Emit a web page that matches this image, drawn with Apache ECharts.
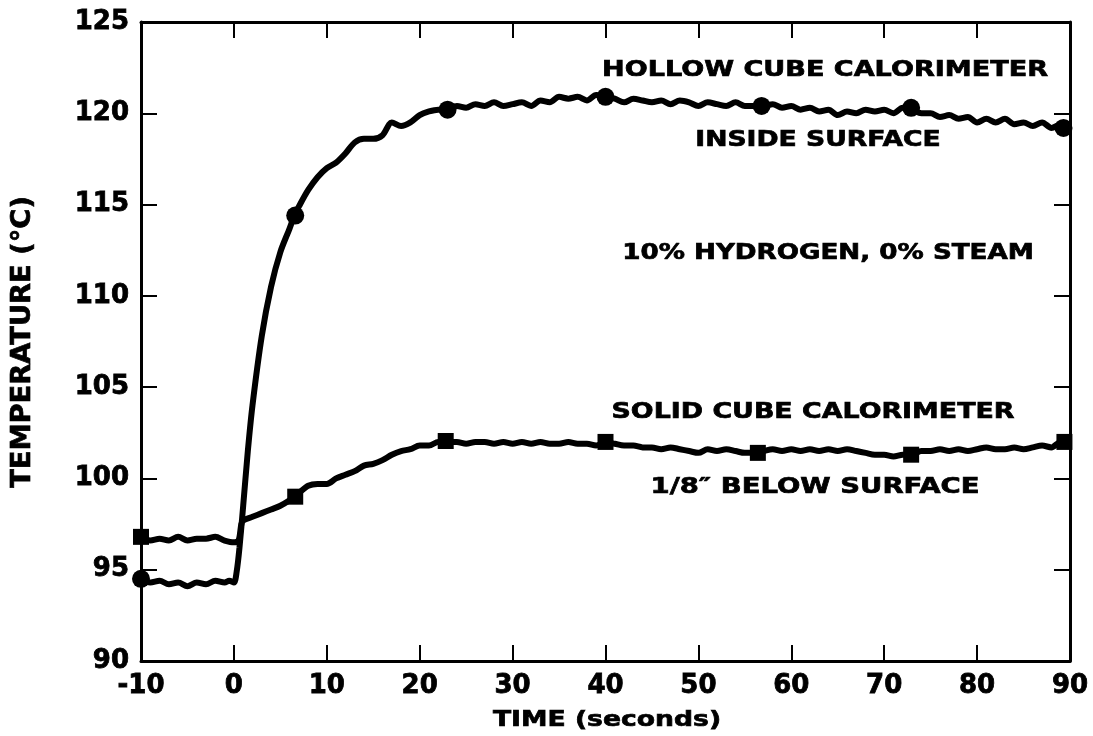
<!DOCTYPE html>
<html lang="en">
<head>
  <meta charset="UTF-8">
  <title>Calorimeter temperature</title>
  <style>
    html, body { margin: 0; padding: 0; background: #fff; }
    #main { width: 1093px; height: 736px; }
  </style>
</head>
<body>
<div id="main"></div>
<script src="https://cdn.jsdelivr.net/npm/echarts@6/dist/echarts.min.js"></script>
<script>
  // hollow cube, inside surface (time s, temperature C)
  const hollowTime = [-10, -9, -8, -7, -6, -5, -4, -3, -2, -1, -0.5, 0, 0.3, 0.6, 1, 1.5, 2, 3, 4, 5, 6, 6.5, 7, 8, 9, 10,
    11, 12, 13, 14, 15, 16, 17, 18, 19, 20, 21, 22, 23, 24, 25, 26, 27, 28, 29, 30,
    31, 32, 33, 34, 35, 36, 37, 38, 39, 40, 41, 42, 43, 44, 45, 46, 47, 48, 49, 50,
    51, 52, 53, 54, 55, 56, 57, 58, 59, 60, 61, 62, 63, 64, 65, 66, 67, 68, 69, 70,
    71, 72, 73, 74, 75, 76, 77, 78, 79, 80, 81, 82, 83, 84, 85, 86, 87, 88, 89, 89.5];
  const hollowTemp = [94.5, 94.3, 94.4, 94.2, 94.3, 94.1, 94.3, 94.2, 94.4, 94.3, 94.4, 94.3, 94.9, 96.2, 98.5, 101.5, 104.0, 107.8, 110.5, 112.4, 113.7, 114.4, 114.9, 115.8, 116.5, 117.0,
    117.3, 117.8, 118.4, 118.6, 118.6, 118.8, 119.5, 119.3, 119.5, 119.9, 120.1, 120.2, 120.2, 120.4, 120.3, 120.5, 120.4, 120.6, 120.4, 120.5,
    120.6, 120.4, 120.7, 120.6, 120.9, 120.8, 120.9, 120.7, 121.0, 120.9, 120.8, 120.6, 120.8, 120.7, 120.6, 120.7, 120.5, 120.7, 120.6, 120.4,
    120.6, 120.5, 120.4, 120.6, 120.4, 120.4, 120.4, 120.5, 120.3, 120.4, 120.2, 120.3, 120.1, 120.2, 119.9, 120.1, 120.0, 120.2, 120.1, 120.2,
    120.0, 120.3, 120.2, 120.0, 120.0, 119.8, 119.9, 119.7, 119.8, 119.5, 119.7, 119.5, 119.7, 119.4, 119.5, 119.3, 119.5, 119.2, 119.4, 119.2];

  // solid cube, 1/8" below surface
  const solidTime = [-10, -9, -8, -7, -6, -5, -4, -3, -2, -1, 0, 0.5, 0.8, 1, 2, 3, 4, 5, 6, 6.5, 7, 8, 9, 10,
    11, 12, 13, 14, 15, 16, 17, 18, 19, 20, 21, 22, 23, 24, 25, 26, 27, 28, 29, 30,
    31, 32, 33, 34, 35, 36, 37, 38, 39, 40, 41, 42, 43, 44, 45, 46, 47, 48, 49, 50,
    51, 52, 53, 54, 55, 56, 57, 58, 59, 60, 61, 62, 63, 64, 65, 66, 67, 68, 69, 70,
    71, 72, 73, 74, 75, 76, 77, 78, 79, 80, 81, 82, 83, 84, 85, 86, 87, 88, 89, 89.5];
  const solidTemp = [96.8, 96.6, 96.7, 96.6, 96.8, 96.6, 96.7, 96.7, 96.8, 96.6, 96.5, 96.6, 97.5, 97.7, 97.9, 98.1, 98.3, 98.5, 98.8, 99.0, 99.2, 99.6, 99.7, 99.7,
    100.0, 100.2, 100.4, 100.7, 100.8, 101.0, 101.3, 101.5, 101.6, 101.8, 101.8, 102.0, 102.0, 102.0, 101.9, 102.0, 102.0, 101.9, 102.0, 101.9,
    102.0, 101.9, 102.0, 101.9, 101.9, 102.0, 101.9, 101.9, 101.8, 102.0, 101.9, 101.8, 101.8, 101.7, 101.7, 101.6, 101.7, 101.6, 101.5, 101.4,
    101.6, 101.5, 101.6, 101.5, 101.4, 101.4, 101.5, 101.6, 101.5, 101.6, 101.5, 101.6, 101.5, 101.6, 101.5, 101.6, 101.5, 101.4, 101.3, 101.3,
    101.2, 101.3, 101.3, 101.5, 101.5, 101.6, 101.5, 101.6, 101.5, 101.6, 101.7, 101.6, 101.6, 101.7, 101.6, 101.7, 101.8, 101.7, 102.0, 102.0];

  // plotted symbols
  const hollowMarkT = [-10, 6.6, 23.0, 40.0, 56.8, 72.9, 89.3];
  const hollowMarkV = [94.5, 114.4, 120.2, 120.9, 120.4, 120.3, 119.2];
  const solidMarkT = [-10, 6.6, 22.8, 40.0, 56.4, 72.9, 89.4];
  const solidMarkV = [96.8, 99.0, 102.05, 102.0, 101.4, 101.3, 102.0];

  const xTicks = [-10, 90, 10];   // min, max, step
  const yTicks = [90, 125, 5];

  const zip = (a, b) => a.map((v, i) => [v, b[i]]);
  const FONT = '"DejaVu Sans", "Liberation Sans", sans-serif';

  let chart = echarts.init(document.getElementById('main'));

  const axisBase = {
    axisLine: { show: true, onZero: false, lineStyle: { color: '#000', width: 3 } },
    axisTick: { show: true, inside: true, length: 16, lineStyle: { color: '#000', width: 2 } },
    splitLine: { show: false }
  };
  const tickFont = {
    color: '#000', fontSize: 26, fontWeight: 'bold', fontFamily: FONT, margin: 12,
    textBorderColor: '#000', textBorderWidth: 0.8
  };

  // caption helper
  function label(text, x, y, scaleX, size, rotation) {
    return {
      type: 'text', x: x, y: y, scaleX: scaleX, rotation: rotation || 0,
      style: {
        text: text, fill: '#000', stroke: '#000', lineWidth: 0.7,
        font: 'bold ' + (size || 22) + 'px ' + FONT,
        textAlign: 'center', textVerticalAlign: 'middle'
      }
    };
  }

  let option = {
    backgroundColor: '#fff',
    animation: false,
    grid: { left: 141, right: 23, top: 22, bottom: 75 },
    xAxis: [
      Object.assign({}, axisBase, {
        type: 'value', position: 'bottom', min: xTicks[0], max: xTicks[1], interval: xTicks[2],
        axisLabel: tickFont
      }),
      Object.assign({}, axisBase, {
        type: 'value', position: 'top', min: xTicks[0], max: xTicks[1], interval: xTicks[2],
        axisLabel: { show: false }
      })
    ],
    yAxis: [
      Object.assign({}, axisBase, {
        type: 'value', position: 'left', min: yTicks[0], max: yTicks[1], interval: yTicks[2],
        axisLabel: tickFont
      }),
      Object.assign({}, axisBase, {
        type: 'value', position: 'right', min: yTicks[0], max: yTicks[1], interval: yTicks[2],
        axisLabel: { show: false }
      })
    ],
    series: [
      {
        type: 'line', data: zip(hollowTime, hollowTemp), showSymbol: false, smooth: 0.3,
        lineStyle: { color: '#000', width: 6 }, z: 3
      },
      {
        type: 'line', data: zip(solidTime, solidTemp), showSymbol: false, smooth: 0.3,
        lineStyle: { color: '#000', width: 6 }, z: 3
      },
      {
        type: 'scatter', data: zip(hollowMarkT, hollowMarkV), symbol: 'circle', symbolSize: 18,
        itemStyle: { color: '#000', opacity: 1 }, clip: false, z: 4
      },
      {
        type: 'scatter', data: zip(solidMarkT, solidMarkV), symbol: 'rect', symbolSize: 16,
        itemStyle: { color: '#000', opacity: 1 }, clip: false, z: 4
      }
    ],
    graphic: [
      label('HOLLOW CUBE CALORIMETER', 825, 70, 1.23),
      label('INSIDE SURFACE', 818, 140, 1.21),
      label('10% HYDROGEN, 0% STEAM', 828, 253, 1.19),
      label('SOLID CUBE CALORIMETER', 813, 412, 1.22),
      label('1/8\u2033 BELOW SURFACE', 815, 487, 1.25),
      label('TIME (seconds)', 607, 720, 1.21),
      label('TEMPERATURE (\u00B0C)', 23, 342, 1.05, 26, Math.PI / 2)
    ]
  };
  chart.setOption(option);
</script>
</body>
</html>
